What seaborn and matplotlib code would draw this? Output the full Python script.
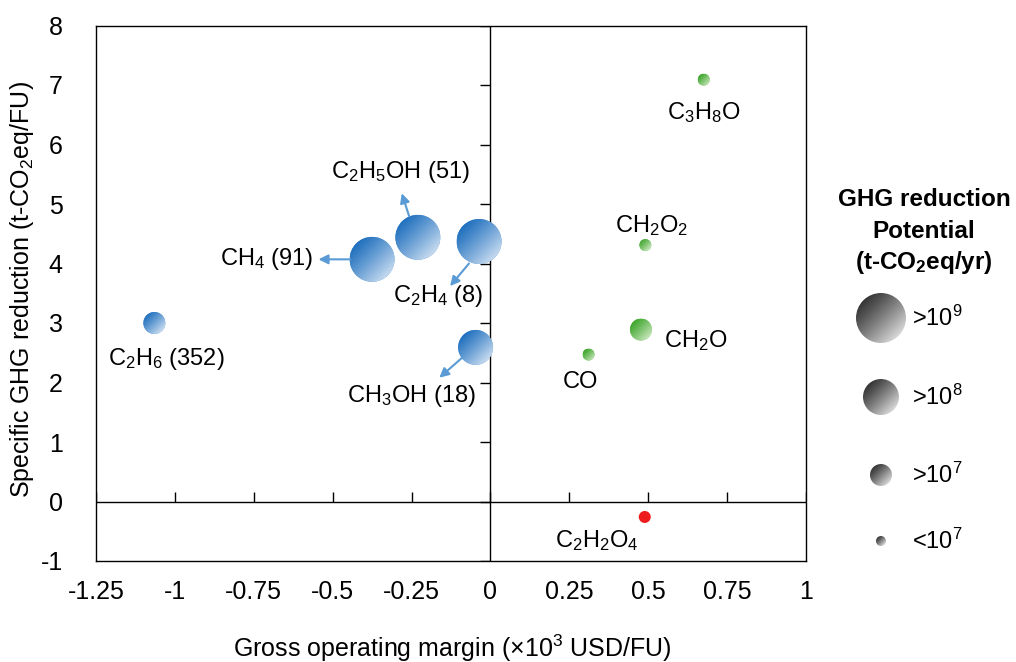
import numpy as np
import pandas as pd
import matplotlib.pyplot as plt
import seaborn as sns
from matplotlib.patches import Ellipse, Circle

# data
names = ["C2H6", "CH4", "C2H5OH", "C2H4", "CH3OH", "CO", "CH2O", "CH2O2", "C3H8O", "C2H2O4"]
labels = ["C$_2$H$_6$ (352)", "CH$_4$ (91)", "C$_2$H$_5$OH (51)", "C$_2$H$_4$ (8)", "CH$_3$OH (18)",
          "CO", "CH$_2$O", "CH$_2$O$_2$", "C$_3$H$_8$O", "C$_2$H$_2$O$_4$"]
margin = [-1.065, -0.375, -0.23, -0.036, -0.047, 0.311, 0.477, 0.491, 0.676, 0.489]
ghg = [3.0, 4.07, 4.44, 4.37, 2.59, 2.47, 2.89, 4.31, 7.09, -0.26]
potential_exp = [7, 9, 9, 9, 8, 6, 7, 6, 6, 6]
group = ["blue", "blue", "blue", "blue", "blue", "green", "green", "green", "green", "red"]

# label positions and arrows (data units)
label_x = [-1.028, -0.708, -0.286, -0.165, -0.249, 0.285, 0.650, 0.512, 0.676, 0.337]
label_y = [2.39, 4.07, 5.53, 3.45, 1.78, 2.0, 2.70, 4.64, 6.53, -0.66]
arrow_from = {"CH4": (-0.444, 4.07), "C2H5OH": (-0.258, 4.80), "C2H4": (-0.068, 4.00), "CH3OH": (-0.089, 2.42)}
arrow_to = {"CH4": (-0.545, 4.07), "C2H5OH": (-0.281, 5.18), "C2H4": (-0.128, 3.62), "CH3OH": (-0.162, 2.08)}

xticks = [-1.25, -1, -0.75, -0.5, -0.25, 0, 0.25, 0.5, 0.75, 1]
xticklabels = ["-1.25", "-1", "-0.75", "-0.5", "-0.25", "0", "0.25", "0.5", "0.75", "1"]
yticks = [-1, 0, 1, 2, 3, 4, 5, 6, 7, 8]

legend_exp = [9, 8, 7, 6]
legend_text = [">10$^9$", ">10$^8$", ">10$^7$", "<10$^7$"]

df = pd.DataFrame({"name": names, "margin": margin, "ghg": ghg, "exp": potential_exp, "group": group})

# style
sns.set_style("white")
plt.rcParams["font.family"] = ["Liberation Sans", "DejaVu Sans"]
plt.rcParams["mathtext.fontset"] = "custom"
plt.rcParams["mathtext.rm"] = "Liberation Sans"
plt.rcParams["mathtext.it"] = "Liberation Sans:italic"
plt.rcParams["mathtext.bf"] = "Liberation Sans:bold"
plt.rcParams["axes.unicode_minus"] = False
plt.rcParams["text.color"] = "black"
plt.rcParams["xtick.color"] = "black"
plt.rcParams["ytick.color"] = "black"

radius_px = {9: 22.5, 8: 17.5, 7: 11, 6: 6}
legend_radius_px = {9: 25, 8: 18, 7: 11, 6: 5}
grad_colors = {"blue": ("#0a62b8", "#eef4fb"), "green": ("#2f9e1c", "#e6f5dc"),
               "grey": ("#1e1e1e", "#ffffff")}
flat_colors = {"blue": "#5a9ad6", "green": "#7cc86a", "red": "#ee1c1c"}


def gradient(c0, c1, n=120):
    c0 = np.array(plt.matplotlib.colors.to_rgb(c0))
    c1 = np.array(plt.matplotlib.colors.to_rgb(c1))
    u, v = np.meshgrid(np.linspace(0, 1, n), np.linspace(0, 1, n))
    t = np.clip((u + v) / 2, 0, 1) ** 1.2
    img = c0[None, None, :] * (1 - t[..., None]) + c1[None, None, :] * t[..., None]
    return img


fig = plt.figure(figsize=(10.16, 6.62), dpi=100)
W, H = 1016, 662
ax = fig.add_axes([96 / W, (H - 561) / H, 710 / W, 535.5 / H])
ax.set_xlim(-1.25, 1)
ax.set_ylim(-1, 8)

px_x = 710 / 2.25
px_y = 535.5 / 9

# base markers with seaborn
for g in ["blue", "green", "red"]:
    sub = df[df["group"] == g]
    sizes = [(2 * radius_px[e] * 0.72) ** 2 for e in sub["exp"]]
    sns.scatterplot(x=sub["margin"], y=sub["ghg"], s=sizes, color=flat_colors[g],
                    edgecolor="none", ax=ax, zorder=3, legend=False)

# gradient shading
for i, row in df.iterrows():
    if row["group"] == "red":
        continue
    r = radius_px[row["exp"]]
    dx, dy = r / px_x, r / px_y
    im = ax.imshow(gradient(*grad_colors[row["group"]]), origin="upper", aspect="auto",
                   extent=(row["margin"] - dx, row["margin"] + dx, row["ghg"] - dy, row["ghg"] + dy),
                   zorder=4, interpolation="bilinear")
    clip = Ellipse((row["margin"], row["ghg"]), 2 * dx, 2 * dy, transform=ax.transData)
    im.set_clip_path(clip)

ax.set_xlim(-1.25, 1)
ax.set_ylim(-1, 8)
ax.set_xlabel("")
ax.set_ylabel("")

# zero lines with ticks
ax.axhline(0, color="black", lw=1, zorder=2)
ax.axvline(0, color="black", lw=1, zorder=2)
ax.plot(xticks, [0] * len(xticks), ls="none", marker=2, ms=7, mew=1, color="black", zorder=2)
ax.plot([0] * len(yticks), yticks, ls="none", marker=0, ms=7, mew=1, color="black", zorder=2)

# labels and arrows
for i, name in enumerate(names):
    ax.text(label_x[i], label_y[i], labels[i], ha="center", va="center", fontsize=17, zorder=5)
for key in arrow_from:
    ax.annotate("", xy=arrow_to[key], xytext=arrow_from[key],
                arrowprops=dict(arrowstyle="-|>", color="#5b9bd5", lw=1.5,
                                mutation_scale=14, shrinkA=0, shrinkB=0), zorder=5)

ax.set_xticks(xticks)
ax.set_xticklabels(xticklabels)
ax.set_yticks(yticks)
ax.tick_params(length=0, labelsize=18, pad=14)
ax.tick_params(axis="y", pad=24)
for s in ax.spines.values():
    s.set_visible(True)
    s.set_color("black")
    s.set_linewidth(1)

fig.text(452 / W, 1 - 648 / H, "Gross operating margin (×10$^3$ USD/FU)", ha="center", va="center", fontsize=18)
fig.text(22 / W, 1 - 290 / H, "Specific GHG reduction (t-CO$_2$eq/FU)", ha="center", va="center",
         rotation=90, fontsize=18)

# legend drawn in pixel space
lax = fig.add_axes([0, 0, 1, 1])
lax.set_xlim(0, W)
lax.set_ylim(H, 0)
lax.axis("off")
lax.patch.set_alpha(0)
for line, yy in zip(["GHG reduction", "Potential", "(t-CO$_\\mathbf{2}$eq/yr)"], [200, 231, 262]):
    lax.text(924, yy, line, ha="center", va="center", fontsize=17.5, fontweight="bold")
legend_y = [318, 397, 475, 541]
for e, txt, yy in zip(legend_exp, legend_text, legend_y):
    r = legend_radius_px[e]
    im = lax.imshow(gradient(*grad_colors["grey"]), origin="upper", aspect="auto",
                    extent=(881 - r, 881 + r, yy + r, yy - r), interpolation="bilinear")
    im.set_clip_path(Circle((881, yy), r, transform=lax.transData))
    lax.text(912, yy, txt, ha="left", va="center", fontsize=17)
lax.set_xlim(0, W)
lax.set_ylim(H, 0)

fig.savefig("out.png", dpi=100)
